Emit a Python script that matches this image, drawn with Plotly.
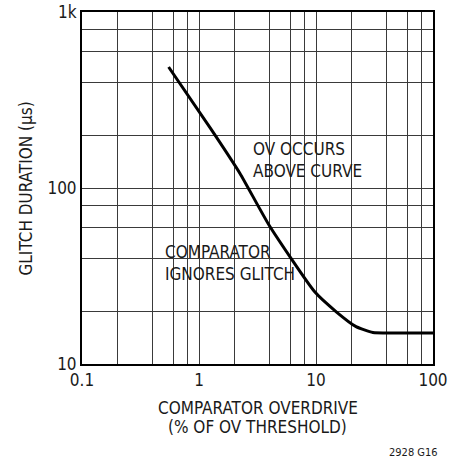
import plotly.graph_objects as go

# Data
overdrive = [0.55, 1.28, 2.24, 4.0, 9.75, 14.9, 22.0, 30.6, 45.0, 100.0]
glitch_us = [487, 214, 121, 61, 25.7, 19.8, 16.3, 15.1, 15.0, 15.0]

x_major = [0.1, 1, 10, 100]
x_major_text = ["0.1", "1", "10", "100"]
x_minor = [0.2, 0.4, 0.6, 0.8, 2, 4, 6, 8, 20, 40, 60, 80]
y_major = [10, 100, 1000]
y_major_text = ["10", "100", "1k"]
y_minor = [20, 40, 60, 80, 200, 400, 600, 800]

FONT = "Liberation Sans Narrow, DejaVu Sans Condensed, Arial Narrow, sans-serif"
INK = "#1a1a1a"
GRID = "#3a3a3a"

W, H = 461, 458
L, R, T, B = 82, 28, 12, 94
PW, PH = W - L - R, H - T - B


def px(xp):
    return (xp - L) / PW


def py(yp):
    return (H - B - yp) / PH


fig = go.Figure()
fig.add_trace(go.Scatter(
    x=overdrive, y=glitch_us, mode="lines",
    line=dict(color="black", width=3, shape="spline", smoothing=0.5),
    hoverinfo="skip", showlegend=False,
))

axis_common = dict(
    type="log", showline=True, linecolor="black", linewidth=2, mirror=True,
    showgrid=True, gridcolor=GRID, gridwidth=1, ticks="", automargin=False,
    tickfont=dict(family=FONT, size=17, color=INK), zeroline=False,
)

fig.update_xaxes(
    **axis_common, range=[-1, 2], tickmode="array",
    tickvals=x_major, ticktext=x_major_text,
    minor=dict(tickmode="array", tickvals=x_minor, showgrid=True,
               gridcolor=GRID, gridwidth=1, ticks=""),
)
fig.update_yaxes(
    **axis_common, range=[1, 3], tickmode="array",
    tickvals=y_major, ticktext=y_major_text,
    minor=dict(tickmode="array", tickvals=y_minor, showgrid=True,
               gridcolor=GRID, gridwidth=1, ticks=""),
)

# white boxes behind labels (cover grid, stay under the curve)
fig.add_shape(type="rect", xref="x", yref="y", x0=2.07, x1=38.5, y0=104, y1=203,
              fillcolor="white", line=dict(width=0), layer="below")
fig.add_shape(type="rect", xref="x", yref="y", x0=0.438, x1=7.4, y0=27.4, y1=51.3,
              fillcolor="white", line=dict(width=0), layer="below")

tf = dict(family=FONT, size=17, color=INK)
anns = [
    dict(x=px(250.7), y=py(160), text="OV OCCURS<br>ABOVE CURVE",
         xanchor="left", yanchor="middle", align="left"),
    dict(x=px(162.7), y=py(263), text="COMPARATOR<br>IGNORES GLITCH",
         xanchor="left", yanchor="middle", align="left"),
    dict(x=0.5, y=py(408), text="COMPARATOR OVERDRIVE",
         xanchor="center", yanchor="middle"),
    dict(x=0.5, y=py(427), text="(% OF OV THRESHOLD)",
         xanchor="center", yanchor="middle"),
    dict(x=px(25.5), y=py(189), text="GLITCH DURATION (µs)", textangle=-90,
         xanchor="center", yanchor="middle"),
]
for a in anns:
    fig.add_annotation(xref="paper", yref="paper", showarrow=False, font=tf, **a)

fig.add_annotation(xref="paper", yref="paper", x=px(440), y=py(452),
                   text="2928 G16", showarrow=False, xanchor="right",
                   yanchor="middle", font=dict(family=FONT, size=11, color=INK))

fig.update_layout(
    width=W, height=H, margin=dict(l=L, r=R, t=T, b=B, autoexpand=False),
    paper_bgcolor="white", plot_bgcolor="white",
)

fig.write_html("out.html", config={"displayModeBar": False, "staticPlot": True},
               post_script="document.body.style.margin='0px';")
